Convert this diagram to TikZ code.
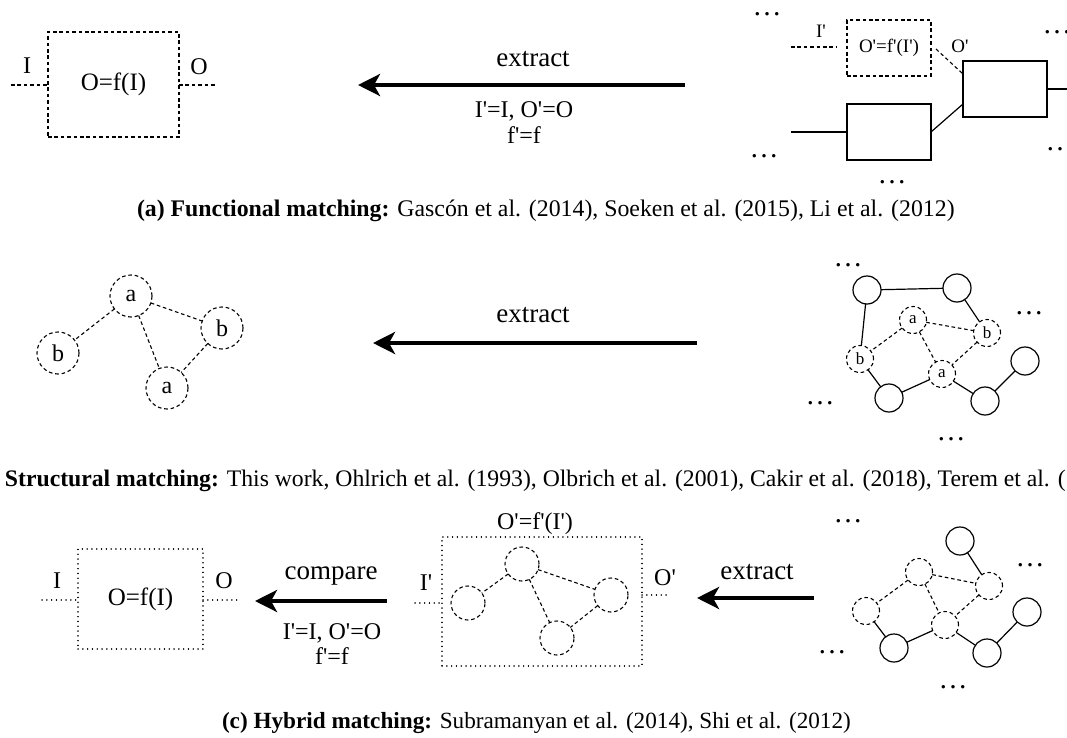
\documentclass[tikz,border=0pt]{standalone}
\usepackage{fontspec}
\setmainfont{Liberation Serif}[Ligatures=TeXOff]
\usetikzlibrary{arrows.meta}

\begin{document}
\begin{tikzpicture}[x=1pt,y=-1pt,
  every node/.style={inner sep=0pt, outer sep=0pt},
  lbl/.style={font=\fontsize{24}{28}\selectfont},
  small/.style={font=\fontsize{19}{22}\selectfont},
  verb/.style={font=\fontsize{27}{32}\selectfont},
  captext/.style={font=\fontsize{#1}{28}\selectfont, anchor=base west},
  captext/.default=23.2,
  ellip/.style={font=\fontsize{29}{32}\selectfont, anchor=base},
  dsh/.style={line width=1.1pt, dash pattern=on 3.6pt off 2.8pt},
  dtt/.style={line width=1.4pt, line cap=round, dash pattern=on 0.1pt off 4.7pt},
  wire/.style={line width=1.2pt},
  bigarrow/.style={line width=4pt, -{Stealth[length=22pt,width=22pt,inset=6pt]}},
  fnbox/.style={draw, rectangle, font=\fontsize{25}{28}\selectfont},
  gate/.style={draw, rectangle, wire, minimum width=84pt, minimum height=56pt},
  bignode/.style={draw, circle, dsh, minimum size=42pt, lbl},
  solidnode/.style={draw, circle, wire, minimum size=28pt},
  matchnode/.style={draw, circle, dsh, minimum size=27pt, font=\fontsize{17}{20}\selectfont},
  midnode/.style={draw, circle, dsh, minimum size=34pt},
]
\path[use as bounding box] (0,0) rectangle (1067,738);
\clip (0,0) rectangle (1067,738);

% ---------------- (a) functional matching ----------------
\node[fnbox, dsh, minimum width=131pt, minimum height=105pt] (fa) at (113.5,84.5) {O=f(I)};
\coordinate (fain) at (11,85);
\coordinate (faout) at (217,85);
\draw[dsh] (fain) -- (fain -| fa.west);
\draw[dsh] (faout -| fa.east) -- (faout);
\node[lbl, anchor=base] (faI) at (27,74) {I};
\node[lbl, anchor=base] (faO) at (199,75) {O};

\coordinate (aFrom) at (685,85);
\coordinate (aTo) at (358,85);
\draw[bigarrow] (aFrom) -- (aTo);
\node[verb, anchor=base] (aVerb) at (533,67) {extract};
\node[lbl, anchor=base] (aCond1) at (524,118) {I'=I, O'=O};
\node[lbl, anchor=base] (aCond2) at (524,144) {f'=f};

% circuit with a matched sub-function
\node[draw, rectangle, dsh, small, minimum width=84pt, minimum height=56pt] (fb) at (889,48) {O'=f'(I')};
\node[gate] (big) at (1005,89) {};
\node[gate] (low) at (889,132) {};
\coordinate (fbin) at (791,47);
\coordinate (lowin) at (791,132);
\coordinate (bigout) at (1075,89);
\draw[dsh] (fbin) -- ([xshift=-10pt]fbin -| fb.west);
\draw[dsh] ([xshift=5pt,yshift=-1pt]fb.east) -- ([yshift=-13pt]big.north west);
\draw[wire] (lowin) -- (low.west);
\draw[wire] (low.east) -- ([yshift=-15pt]big.west);
\draw[wire] (big.east) -- (bigout);
\node[small, anchor=base] (fbI) at (821,38) {I'};
\node[small, anchor=base] (fbO) at (960,53) {O'};
\node[ellip] (ad1) at (767,16) {…};
\node[ellip] (ad2) at (1057,34) {…};
\node[ellip] (ad3) at (1060,151) {…};
\node[ellip] (ad4) at (764,158) {…};
\node[ellip] (ad5) at (892,183) {…};

\node[captext=23.8] (capa) at (137,216) {{\bfseries (a) Functional matching:} Gascón et al. (2014), Soeken et al. (2015), Li et al. (2012)};

% ---------------- (b) structural matching ----------------
\node[bignode] (pa1) at (131,296) {a};
\node[bignode] (pb1) at (58,353) {b};
\node[bignode] (pb2) at (222,328) {b};
\node[bignode] (pa2) at (167,388) {a};
\draw[dsh] (pa1) -- (pb1);
\draw[dsh] (pa1) -- (pb2);
\draw[dsh] (pa1) -- (pa2);
\draw[dsh] (pb2) -- (pa2);

\coordinate (bFrom) at (697,343);
\coordinate (bTo) at (373,343);
\draw[bigarrow] (bFrom) -- (bTo);
\node[verb, anchor=base] (bVerb) at (533,322) {extract};

\node[solidnode] (g1) at (867,290) {};
\node[solidnode] (g2) at (957,288) {};
\node[solidnode] (g3) at (889,398) {};
\node[solidnode] (g4) at (985,401) {};
\node[solidnode] (g5) at (1025,361) {};
\node[matchnode] (ga1) at (913,320) {a};
\node[matchnode] (gb1) at (987,333) {b};
\node[matchnode] (gb2) at (860,359) {b};
\node[matchnode] (ga2) at (942,374) {a};
\draw[wire] (g1) -- (g2);
\draw[wire] (g1) -- (gb2);
\draw[wire] (g2) -- (gb1);
\draw[wire] (gb2) -- (g3);
\draw[wire] (g3) -- (ga2);
\draw[wire] (ga2) -- (g4);
\draw[wire] (g4) -- (g5);
\draw[dsh] (ga1) -- (gb1);
\draw[dsh] (ga1) -- (gb2);
\draw[dsh] (ga1) -- (ga2);
\draw[dsh] (gb1) -- (ga2);
\node[ellip] (bd1) at (848,266) {…};
\node[ellip] (bd2) at (1029,314) {…};
\node[ellip] (bd3) at (820,404) {…};
\node[ellip] (bd4) at (951,440) {…};

\node[captext=23.7] (capb) at (5,486) {{\bfseries Structural matching:} This work, Ohlrich et al. (1993), Olbrich et al. (2001), Cakir et al. (2018), Terem et al. (};

% ---------------- (c) hybrid matching ----------------
\node[fnbox, dtt, minimum width=125pt, minimum height=100pt] (fc) at (140.5,599) {O=f(I)};
\coordinate (fcin) at (42,600);
\coordinate (fcout) at (238,600);
\draw[dtt] (fcin) -- (fcin -| fc.west);
\draw[dtt] (fcout -| fc.east) -- (fcout);
\node[lbl, anchor=base] (fcI) at (57,588) {I};
\node[lbl, anchor=base] (fcO) at (224,588) {O};

\coordinate (cFrom) at (387,601);
\coordinate (cTo) at (255,601);
\draw[bigarrow] (cFrom) -- (cTo);
\node[verb, anchor=base] (cVerb) at (331,579) {compare};
\node[lbl, anchor=base] (cCond1) at (332,639) {I'=I, O'=O};
\node[lbl, anchor=base] (cCond2) at (332,664) {f'=f};

\node[draw, rectangle, dtt, minimum width=200pt, minimum height=129pt] (mid) at (542,601.5) {};
\node[lbl, anchor=base] (midf) at (535,529) {O'=f'(I')};
\coordinate (midin) at (415,603);
\coordinate (midout) at (670,595);
\draw[dtt] (midin) -- (midin -| mid.west);
\draw[dtt] (midout -| mid.east) -- (midout);
\node[lbl, anchor=base] (midI) at (426,590) {I'};
\node[lbl, anchor=base] (midO) at (665,585) {O'};
\node[midnode] (m1) at (522,564) {};
\node[midnode] (m2) at (468,603) {};
\node[midnode] (m3) at (611,595) {};
\node[midnode] (m4) at (557,638) {};
\draw[dsh] (m1) -- (m2);
\draw[dsh] (m1) -- (m3);
\draw[dsh] (m1) -- (m4);
\draw[dsh] (m3) -- (m4);

\coordinate (dFrom) at (814,598);
\coordinate (dTo) at (697,598);
\draw[bigarrow] (dFrom) -- (dTo);
\node[verb, anchor=base] (dVerb) at (757,579) {extract};

\node[matchnode] (h1) at (919,572) {};
\node[matchnode] (h2) at (989,586) {};
\node[matchnode] (h3) at (866,611) {};
\node[matchnode] (h4) at (945,625) {};
\node[solidnode] (k1) at (960,541) {};
\node[solidnode] (k2) at (1027,612) {};
\node[solidnode] (k3) at (894,648) {};
\node[solidnode] (k4) at (987,653) {};
\draw[wire] (k1) -- (h2);
\draw[wire] (h3) -- (k3);
\draw[wire] (k3) -- (h4);
\draw[wire] (h4) -- (k4);
\draw[wire] (k4) -- (k2);
\draw[dsh] (h1) -- (h2);
\draw[dsh] (h1) -- (h3);
\draw[dsh] (h1) -- (h4);
\draw[dsh] (h2) -- (h4);
\node[ellip] (cd1) at (848,522) {…};
\node[ellip] (cd2) at (1030,566) {…};
\node[ellip] (cd3) at (832,653) {…};
\node[ellip] (cd4) at (953,688) {…};

\node[captext] (capc) at (222,728) {{\bfseries (c) Hybrid matching:} Subramanyan et al. (2014), Shi et al. (2012)};
\end{tikzpicture}
\end{document}
